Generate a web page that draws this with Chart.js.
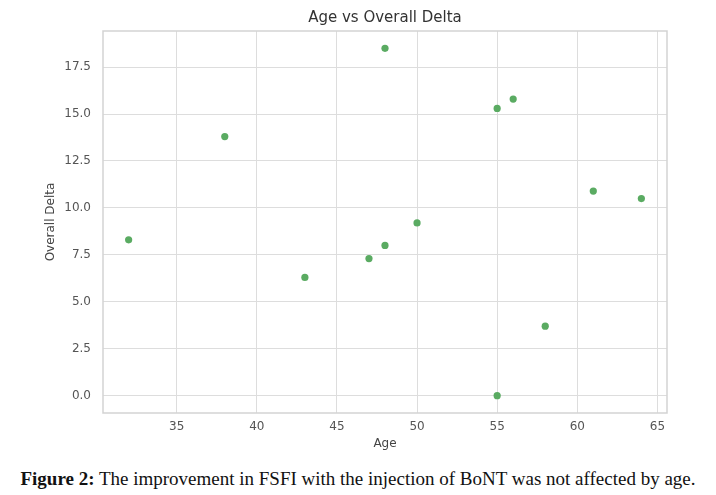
<!DOCTYPE html>
<html>
<head>
<meta charset="utf-8">
<script src="https://cdn.jsdelivr.net/npm/chart.js@4/dist/chart.umd.min.js"></script>
<style>
  html, body { margin: 0; padding: 0; background: #fff; }
  #wrap { position: relative; width: 716px; height: 455px; }
  #caption {
    width: 716px; text-align: center; margin-top: 13px;
    font-family: "Liberation Serif", "DejaVu Serif", serif; font-size: 19px; color: #111;
  }
</style>
</head>
<body>
<div id="wrap"><canvas id="ScatterChart"></canvas></div>
<div id="caption"><b>Figure 2:</b> The improvement in FSFI with the injection of BoNT was not affected by age.</div>
<script>
// values
var ages   = [32, 38, 43, 47, 48, 48, 50, 55, 56, 55, 58, 61, 64];
var deltas = [8.3, 13.8, 6.3, 7.3, 8.0, 18.5, 9.2, 15.3, 15.8, 0.0, 3.7, 10.9, 10.5];
var xTicks = [35, 40, 45, 50, 55, 60, 65];
var yTicks = [0, 2.5, 5, 7.5, 10, 12.5, 15, 17.5];
var chartTitle = 'Age vs Overall Delta';

var points = [];
for (var i = 0; i < ages.length; i++) {
  points.push({x: ages[i], y: deltas[i]});
}

// frame round the plot (seaborn spines)
var frame = {
  id: 'frame',
  beforeDatasetsDraw: function(chart) {
    var a = chart.chartArea, c = chart.ctx;
    c.save();
    c.strokeStyle = '#d3d3d3';
    c.lineWidth = 1.5;
    c.strokeRect(a.left, a.top, a.right - a.left, a.bottom - a.top);
    c.restore();
  }
};

// title centred over the plot area, like matplotlib does it
var axesTitle = {
  id: 'axesTitle',
  afterDraw: function(chart) {
    var a = chart.chartArea, c = chart.ctx;
    c.save();
    c.fillStyle = '#333';
    c.font = '15px "DejaVu Sans"';
    c.textAlign = 'center';
    c.textBaseline = 'middle';
    c.fillText(chartTitle, (a.left + a.right) / 2, 18);
    c.restore();
  }
};

var ctx = document.getElementById("ScatterChart");
var ScatterChart = new Chart(ctx, {
  type: 'scatter',
  data: {
    datasets: [{
      label: 'Overall Delta',
      data: points,
      backgroundColor: '#5aab62',
      borderColor: '#5aab62',
      borderWidth: 0,
      pointRadius: 3.6,
      pointHoverRadius: 3.6
    }]
  },
  options: {
    responsive: true,
    maintainAspectRatio: false,
    animation: false,
    layout: { padding: { left: 0, right: 49, top: 31, bottom: 0 } },
    plugins: {
      legend: { display: false },
      tooltip: { enabled: false },
      title: { display: false }
    },
    scales: {
      x: {
        type: 'linear',
        min: 30.4,
        max: 65.6,
        afterBuildTicks: function(axis) {
          axis.ticks = xTicks.map(function(v) { return {value: v}; });
        },
        afterFit: function(axis) { axis.height = 42; },
        grid: { color: '#dddddd', lineWidth: 1, drawTicks: false },
        border: { display: false },
        ticks: {
          color: '#555',
          padding: 7,
          font: { family: 'DejaVu Sans', size: 12 },
          callback: function(v) { return v; }
        },
        title: {
          display: true,
          text: 'Age',
          color: '#444',
          font: { family: 'DejaVu Sans', size: 12 },
          padding: { top: 0, bottom: 4 }
        }
      },
      y: {
        type: 'linear',
        min: -0.925,
        max: 19.425,
        afterBuildTicks: function(axis) {
          axis.ticks = yTicks.map(function(v) { return {value: v}; });
        },
        afterFit: function(axis) { axis.width = 103; },
        grid: { color: '#dddddd', lineWidth: 1, drawTicks: false },
        border: { display: false },
        ticks: {
          color: '#555',
          padding: 12,
          font: { family: 'DejaVu Sans', size: 12 },
          callback: function(v) { return Number(v).toFixed(1); }
        },
        title: {
          display: true,
          text: 'Overall Delta',
          color: '#444',
          font: { family: 'DejaVu Sans', size: 12 },
          padding: { top: 44, bottom: 0 }
        }
      }
    }
  },
  plugins: [frame, axesTitle]
});
</script>
</body>
</html>
